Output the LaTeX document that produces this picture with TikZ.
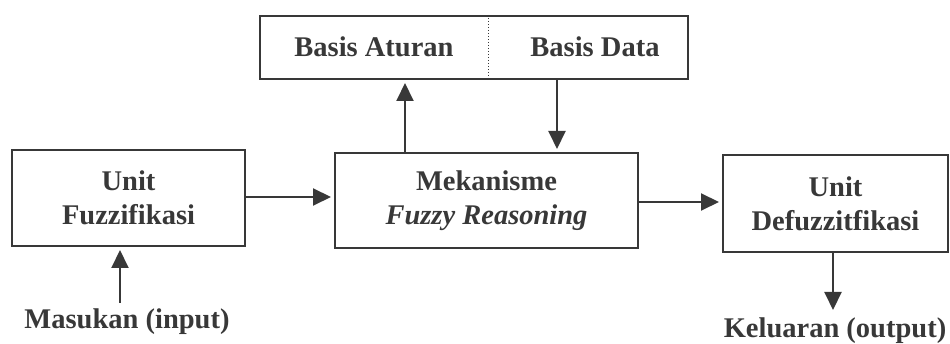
\documentclass[tikz,border=0pt]{standalone}
\usepackage{fontspec}
\setmainfont{Liberation Serif}
\usetikzlibrary{arrows.meta}
\definecolor{ink}{HTML}{383838}
\tikzset{
  blk/.style={draw=ink, line width=2pt, text=ink, align=center, inner sep=0pt,
    font=\fontsize{28.5}{34}\selectfont\bfseries},
  lbl/.style={text=ink, inner sep=0pt, font=\fontsize{28.5}{34}\selectfont\bfseries},
  arr/.style={draw=ink, line width=2pt, shorten >=3pt, -{Triangle[length=18pt,width=17pt]}},
}
\begin{document}
\begin{tikzpicture}[x=1pt,y=-1pt]
  \useasboundingbox (0,0) rectangle (950,344);
  % blocks
  \node[blk, minimum width=428pt, minimum height=63pt] (top) at (474,47.5) {};
  \node[lbl] (rules) at (374,47) {Basis Aturan};
  \node[lbl] (data) at (595,47) {Basis Data};
  \draw[ink, line width=1pt, dotted] (top.north -| 488,0) coordinate (divtop) -- (divtop |- top.south);
  \node[blk, minimum width=233pt, minimum height=96pt] (fuzz) at (128.5,198) {Unit\\Fuzzifikasi};
  \node[blk, minimum width=303pt, minimum height=95pt] (mek) at (486.5,200.5) {Mekanisme\\\textit{Fuzzy Reasoning}};
  \node[blk, minimum width=225pt, minimum height=97pt] (defuzz) at (835.5,203.5) {Unit\\Defuzzitfikasi};
  % input / output labels
  \node[lbl] (inlbl) at (127,322) {Masukan (input)};
  \node[lbl] (outlbl) at (835,331) {Keluaran (output)};
  % connectors
  \coordinate (inx) at (120,303);
  \coordinate (upx) at (405,0);
  \coordinate (dnx) at (557,0);
  \coordinate (outx) at (833,310);
  \draw[arr] (inx) -- (inx |- fuzz.south);
  \draw[arr] (fuzz.east |- 0,197) -- (mek.west |- 0,197);
  \draw[arr] (upx |- mek.north) -- (upx |- top.south);
  \draw[arr] (dnx |- top.south) -- (dnx |- mek.north);
  \draw[arr] (mek.east |- 0,202) -- (defuzz.west |- 0,202);
  \draw[arr, shorten >=0pt] (outx |- defuzz.south) -- (outx);
\end{tikzpicture}
\end{document}
